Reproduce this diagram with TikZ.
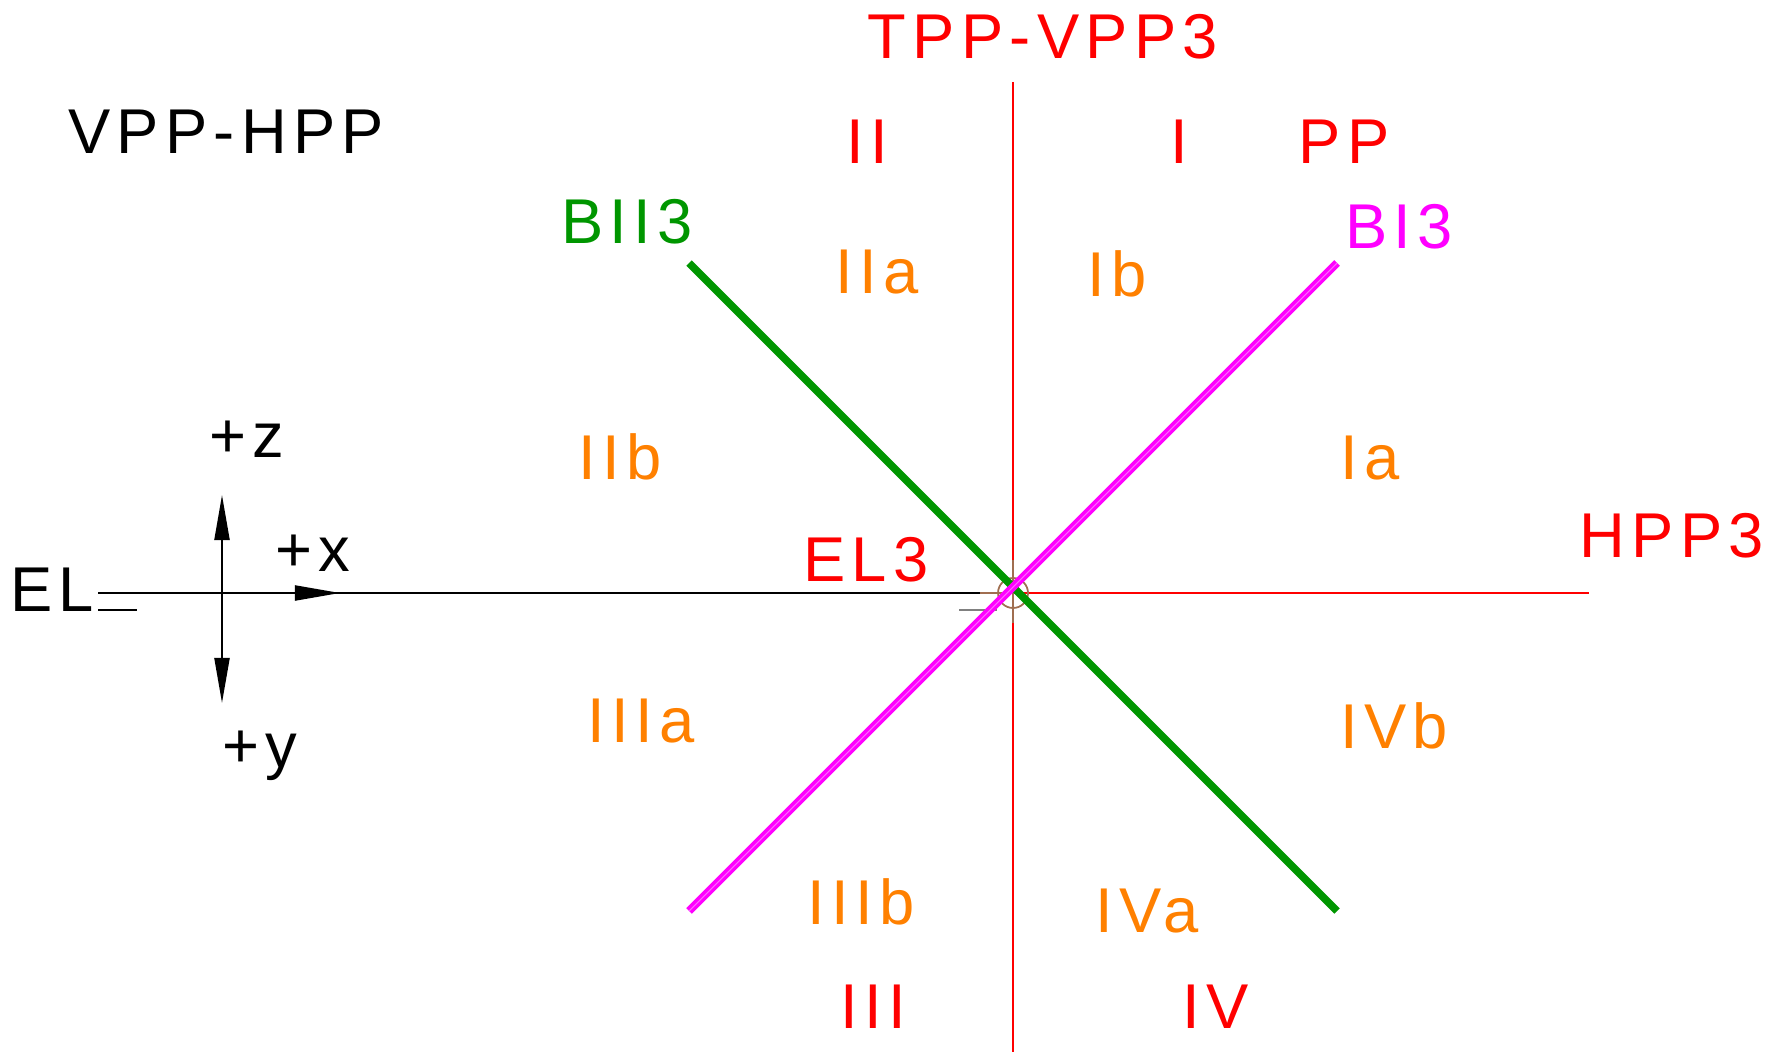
\documentclass[tikz,border=0pt]{standalone}
\usepackage{fontspec}
\setmainfont{Liberation Sans}[LetterSpace=10]
\usetikzlibrary{arrows.meta}
\definecolor{cadred}{RGB}{255,0,0}
\definecolor{cadorange}{RGB}{255,128,0}
\definecolor{cadgreen}{RGB}{0,150,0}
\definecolor{cadmagenta}{RGB}{255,0,255}
\definecolor{cadbrown}{RGB}{160,110,80}
\tikzset{
  lbl/.style={inner sep=0pt, anchor=base, font=\fontsize{18pt}{18pt}\selectfont},
  tip/.style={-{Triangle[length=0.45cm,width=0.15cm]}},
}
\begin{document}
\begin{tikzpicture}[x=0.01cm,y=-0.01cm]
      \useasboundingbox (0,0) rectangle (1777,1052);
      \coordinate (O) at (1013,593);
      % reference lines
      \draw[cadred, line width=0.5pt] (1013,82) -- (1013,1052);
      \draw[cadred, line width=0.5pt] (O) -- (1589,593);
      \draw[line width=0.5pt] (98,593) -- (O);
      \draw[line width=0.5pt] (98,610) -- (137,610);
      \draw[gray, line width=0.7pt] (959,610) -- (997,610);
      \draw[cadbrown, line width=0.5pt] (O) circle (15);
      \draw[cadbrown, line width=0.7pt] (1013,560) -- (1013,623);
      \draw[cadbrown, line width=0.5pt] (980,593) -- (O);
      % the two bisectors
      \draw[cadgreen, line width=2.2pt] (689,263) -- (1337,911);
      \draw[cadmagenta, line width=1pt, double=cadmagenta!60, double distance=0.3pt] (689,911) -- (1337,263);
      % axes symbol
      \coordinate (A) at (222,593);
      \draw[tip, line width=0.6pt] (A) -- (222,495);
      \draw[tip, line width=0.6pt] (A) -- (222,703);
      \draw[tip, line width=0.6pt] (A) -- (340,593);
      \node[lbl] (z) at (247,457) {+z};
      \node[lbl] (x) at (313,571) {+x};
      \node[lbl] (y) at (260,767) {+y};
      \node[lbl] (el) at (52,611) {EL};
      \node[lbl] (vh) at (226,154) {VPP-HPP};
      % red labels
      \foreach \px/\py/\t in {1043/59/TPP-VPP3,867/164/II,1179/164/I,1344/164/PP,1672/557/HPP3,866/581/EL3,873/1028/III,1216/1028/IV}{
        \node[lbl, cadred] at (\px,\py) {\t};
      }
      % octants
      \foreach \px/\py/\t in {877/294/IIa,1117/297/Ib,620/479/IIb,1370/479/Ia,641/742/IIIa,1394/748/IVb,861/924/IIIb,1147/932/IVa}{
        \node[lbl, cadorange] at (\px,\py) {\t};
      }
      \node[lbl, cadgreen] (b2) at (627,244) {BII3};
      \node[lbl, cadmagenta] (b1) at (1399,249) {BI3};
    \end{tikzpicture}
\end{document}
